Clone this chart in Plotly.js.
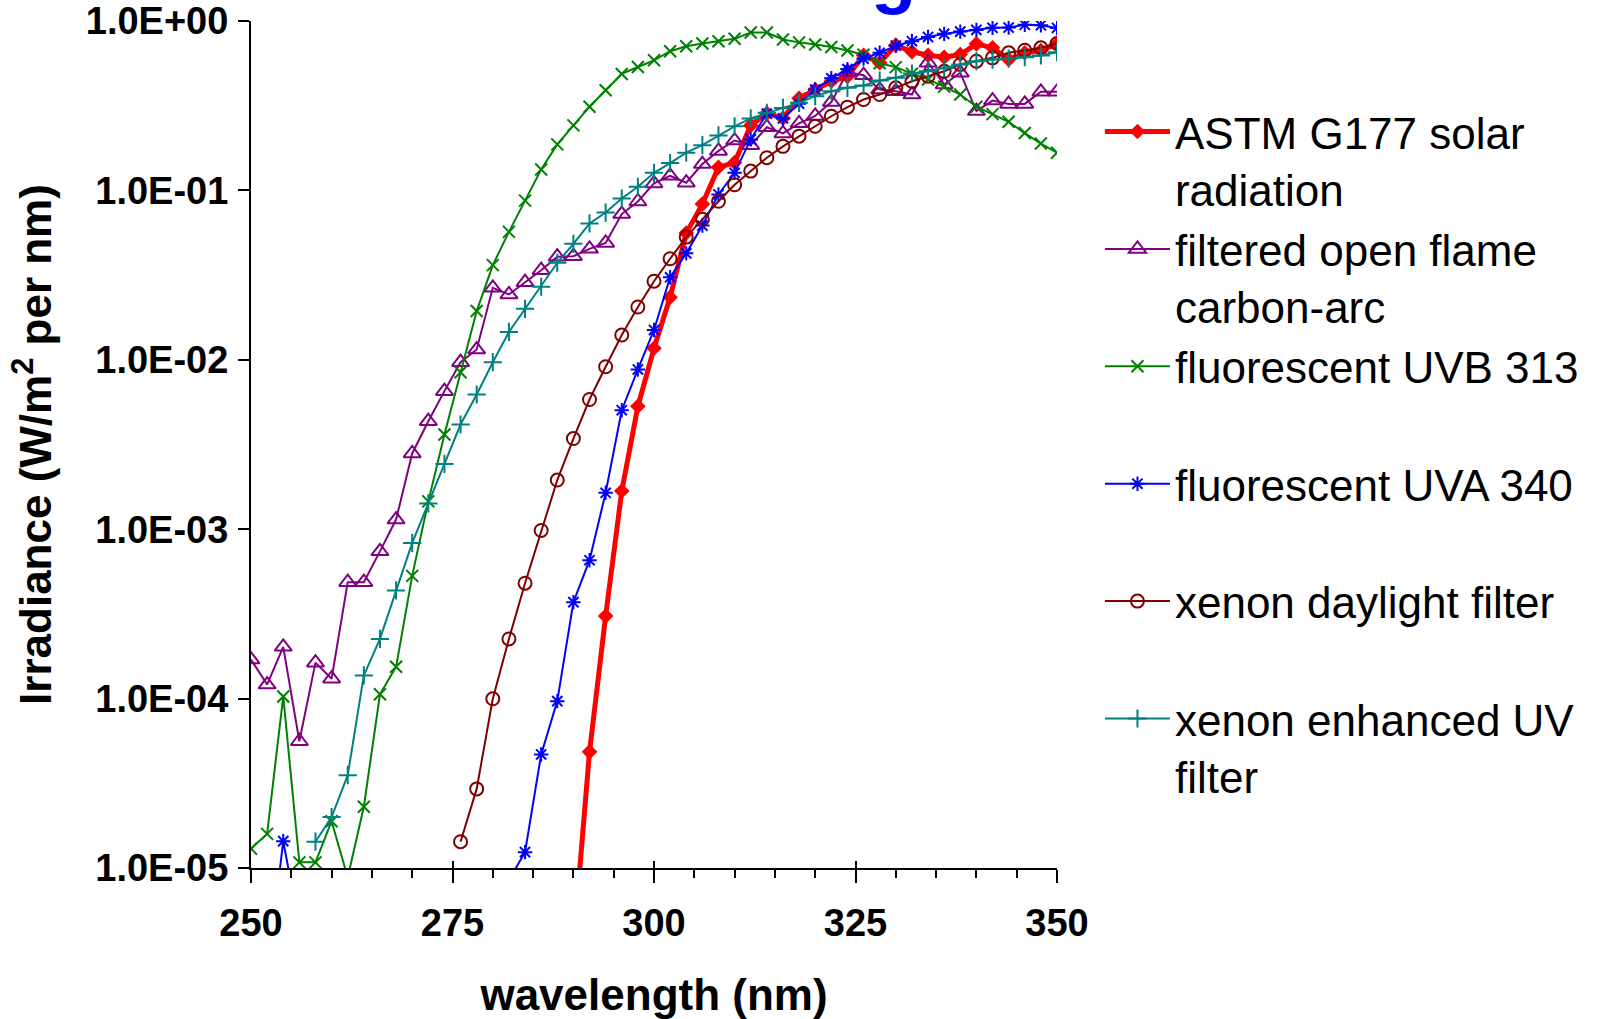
<!DOCTYPE html>
<html>
<head>
<meta charset="utf-8">
<script src="https://cdn.plot.ly/plotly-3.0.1.min.js"></script>
<style>html,body{margin:0;padding:0;background:#fff;}#chart{width:1608px;height:1019px;}</style>
</head>
<body>
<div id="chart"></div>
<script>
// wavelength (nm)
const wavelength = [250,252,254,256,258,260,262,264,266,268,270,272,274,276,278,280,282,284,286,288,290,292,294,296,298,300,302,304,306,308,310,312,314,316,318,320,322,324,326,328,330,332,334,336,338,340,342,344,346,348,350];

// Irradiance (W/m2 per nm)
const astmSolar = [null,null,null,null,null,null,null,null,null,null,null,null,null,null,null,null,null,null,null,null,
  3.5e-6,4.85e-5,3.07e-4,1.68e-3,5.32e-3,1.17e-2,2.34e-2,5.6e-2,8.3e-2,0.137,0.146,0.242,0.285,0.267,0.35,0.394,0.441,0.47,0.628,0.567,0.72,0.658,0.628,0.611,0.634,0.733,0.695,0.592,0.649,0.67,0.733];
const carbonArc = [1.7e-4,1.21e-4,2.02e-4,5.6e-5,1.63e-4,1.31e-4,4.87e-4,4.87e-4,7.4e-4,1.14e-3,2.8e-3,4.34e-3,6.53e-3,9.68e-3,1.15e-2,2.66e-2,2.43e-2,2.87e-2,3.38e-2,4.06e-2,4.09e-2,4.52e-2,4.9e-2,7.25e-2,8.6e-2,0.11,0.122,0.111,0.143,0.171,0.197,0.185,0.236,0.217,0.249,0.275,0.332,0.50,0.479,0.394,0.385,0.368,0.567,0.422,0.495,0.294,0.339,0.324,0.324,0.382,0.382];
const uvb313 = [1.3e-5,1.59e-5,1.03e-4,1.08e-5,1.08e-5,1.89e-5,8.8e-6,2.3e-5,1.06e-4,1.54e-4,5.3e-4,1.46e-3,3.62e-3,8.45e-3,1.94e-2,3.62e-2,5.69e-2,8.7e-2,0.133,0.187,0.242,0.312,0.39,0.487,0.535,0.586,0.663,0.71,0.737,0.76,0.785,0.855,0.855,0.778,0.748,0.727,0.702,0.67,0.632,0.563,0.534,0.489,0.452,0.41,0.368,0.312,0.282,0.254,0.218,0.189,0.167];
const uva340 = [null,2.3e-6,1.44e-5,4.5e-6,null,null,null,null,null,null,null,null,null,null,null,null,
  8.5e-6,1.24e-5,4.68e-5,9.66e-5,3.71e-4,6.56e-4,1.64e-3,5.04e-3,8.77e-3,1.5e-2,3.07e-2,4.25e-2,6.2e-2,0.0946,0.127,0.2,0.284,0.266,0.325,0.394,0.459,0.52,0.6,0.649,0.715,0.76,0.805,0.84,0.866,0.886,0.912,0.915,0.95,0.944,0.91];
const xenonDaylight = [null,null,null,null,null,null,null,null,null,null,null,null,null,
  1.43e-5,2.93e-5,9.97e-5,2.25e-4,4.8e-4,9.83e-4,1.95e-3,3.43e-3,5.83e-3,9.1e-3,1.4e-2,2.05e-2,2.91e-2,3.95e-2,5.3e-2,6.75e-2,8.63e-2,0.108,0.13,0.156,0.182,0.209,0.239,0.274,0.31,0.344,0.368,0.403,0.441,0.472,0.505,0.554,0.579,0.606,0.649,0.672,0.695,0.737];
const xenonUV = [null,null,null,null,
  1.43e-5,2.0e-5,3.53e-5,1.37e-4,2.25e-4,4.35e-4,8.3e-4,1.42e-3,2.43e-3,4.15e-3,6.24e-3,9.68e-3,1.46e-2,2.0e-2,2.7e-2,3.74e-2,4.84e-2,6.38e-2,7.4e-2,8.95e-2,0.105,0.127,0.145,0.167,0.185,0.211,0.239,0.266,0.287,0.307,0.329,0.36,0.385,0.403,0.416,0.445,0.462,0.49,0.505,0.529,0.554,0.579,0.592,0.6,0.611,0.626,0.654];

const seriesNames = ["ASTM G177 solar<br>radiation","filtered open flame<br>carbon-arc","fluorescent UVB 313<br> ","fluorescent UVA 340<br> ","xenon daylight filter<br> ","xenon enhanced UV<br>filter"];

const yTickVals = [1e-5,1e-4,1e-3,1e-2,1e-1,1];
const yTickText = ["1.0E-05","1.0E-04","1.0E-03","1.0E-02","1.0E-01","1.0E+00"];

const FONT = "Liberation Sans, Arial, Helvetica, sans-serif";

function mk(y, name, color, lw, symbol, msize, mlw) {
  return {
    x: wavelength, y: y, name: name, type: "scatter", mode: "lines+markers",
    connectgaps: false,
    line: {color: color, width: lw},
    marker: {symbol: symbol, size: msize, color: color,
             line: {color: color, width: mlw}}
  };
}

const data = [
  mk(astmSolar, seriesNames[0], "#FF0000", 5, "diamond", 12, 0),
  mk(carbonArc, seriesNames[1], "#800080", 2, "triangle-up-open", 15, 2),
  mk(uvb313, seriesNames[2], "#008000", 2, "x-thin-open", 12, 2),
  mk(uva340, seriesNames[3], "#0000FF", 2, "asterisk-open", 12, 2),
  mk(xenonDaylight, seriesNames[4], "#800000", 2, "circle-open", 13, 2),
  mk(xenonUV, seriesNames[5], "#008080", 2, "cross-thin-open", 13, 2)
];

const layout = {
  width: 1608, height: 1019,
  margin: {l: 251, r: 551, t: 21, b: 151, pad: 0},
  paper_bgcolor: "#ffffff", plot_bgcolor: "#ffffff",
  font: {family: FONT, color: "#000"},
  showlegend: true,
  legend: {
    x: 1.0533, xanchor: "left", y: 0.911, yanchor: "top",
    font: {family: FONT, size: 44, color: "#000"},
    itemwidth: 65, valign: "top", tracegroupgap: 0,
    bgcolor: "rgba(0,0,0,0)", borderwidth: 0
  },
  xaxis: {
    range: [250, 350], tick0: 250, dtick: 25,
    ticks: "outside", ticklen: 13, tickwidth: 2, tickcolor: "#000",
    minor: {dtick: 5, ticks: "outside", ticklen: 8, tickwidth: 2, tickcolor: "#000", showgrid: false},
    showline: true, linewidth: 2, linecolor: "#000",
    showgrid: false, zeroline: false,
    tickfont: {family: FONT, size: 38, weight: "bold", color: "#000"},
    ticklabelstandoff: 7,
    title: {text: "wavelength (nm)", font: {family: FONT, size: 44, weight: "bold", color: "#000"}, standoff: 45}
  },
  xaxis2: {
    overlaying: "x", anchor: "y", side: "bottom", matches: "x",
    range: [250, 350], tick0: 250, dtick: 25,
    ticks: "inside", ticklen: 7, tickwidth: 2, tickcolor: "#000",
    showticklabels: false, showline: false, showgrid: false, zeroline: false
  },
  yaxis: {
    type: "log", range: [-5, 0],
    tickvals: yTickVals, ticktext: yTickText,
    ticks: "outside", ticklen: 11, tickwidth: 2, tickcolor: "#000",
    showline: true, linewidth: 2, linecolor: "#000",
    showgrid: false, zeroline: false,
    tickfont: {family: FONT, size: 38, weight: "bold", color: "#000"},
    ticklabelstandoff: 2,
    title: {text: "Irradiance (W/m<sup>2</sup> per nm)", font: {family: FONT, size: 44, weight: "bold", color: "#000"}, standoff: 20}
  },
  annotations: [{
    text: "g", xref: "paper", yref: "paper", x: 0.797, y: 1.004,
    xanchor: "center", yanchor: "bottom", showarrow: false,
    font: {family: FONT, size: 74, weight: "bold", color: "#0000FF"}
  }]
};

// invisible point on the overlay axis so its crossing tick marks are drawn
data.push({x: [wavelength[0]], y: [yTickVals[0]], xaxis: "x2", yaxis: "y", type: "scatter", mode: "markers",
  marker: {opacity: 0}, showlegend: false, hoverinfo: "skip"});

Plotly.newPlot("chart", data, layout, {displayModeBar: false, staticPlot: true});
</script>
</body>
</html>
